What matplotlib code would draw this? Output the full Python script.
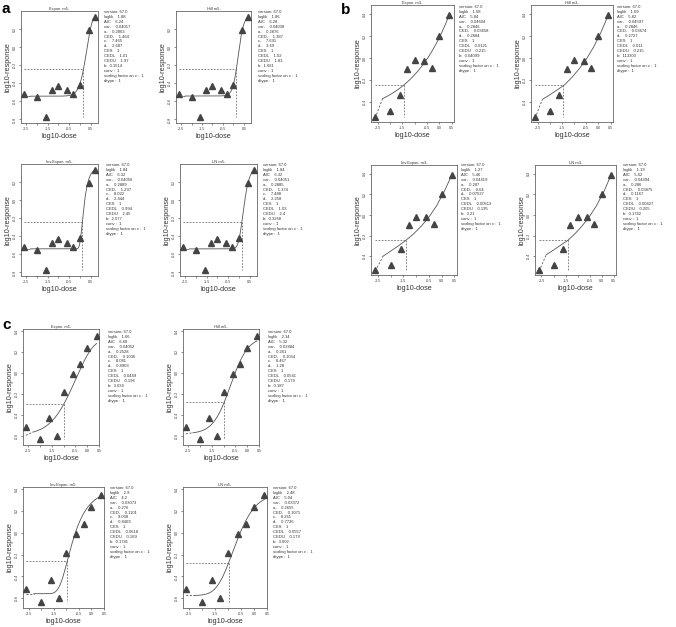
import math
import numpy as np
import matplotlib
matplotlib.use("Agg")
import matplotlib.pyplot as plt

# ---------------- data ----------------
dose_a = [-2.6, -2.0, -1.6, -1.3, -1.0, -0.6, -0.3, 0.0, 0.4, 0.7]
resp_a = [-0.52, -0.555, -0.775, -0.47, -0.43, -0.47, -0.52, -0.42, 0.193, 0.333]
dose_b = [-2.6, -2.0, -1.6, -1.3, -1.0, -0.6, -0.3, 0.0, 0.4]
resp_b = [-0.538, -0.484, -0.332, -0.10, -0.015, -0.024, -0.085, 0.204, 0.39]
dose_c = [-2.6, -2.0, -1.6, -1.3, -1.0, -0.6, -0.3, 0.0, 0.4]
resp_c = [-0.52, -0.634, -0.434, -0.60, -0.187, -0.014, 0.082, 0.238, 0.35]

# panel a fits
models_a = ["Expon. m5-", "Hill m5-", "Inv.Expon. m5-", "LN m5-"]
family_a = ["exp5", "hill5", "inv5", "ln5"]
loglik_a = ["1.88", "1.86", "1.84", "1.84"]
aic_a = ["6.24", "6.28", "6.32", "6.32"]
var_a = ["0.04017", "0.04038", "0.04056", "0.04051"]
apar_a = ["0.2863", "0.2876", "0.2889", "0.2885"]
ced_a = ["1.464", "1.387", "1.297", "1.374"]
cpar_a = ["7.465", "7.691", "8.022", "7.488"]
dpar_a = ["2.687", "3.69", "2.444", "2.258"]
cedl_a = ["1.01", "1.02", "0.994", "1.03"]
cedu_a = ["1.97", "1.83", "2.45", "2.4"]
bpar_a = ["0.1514", "1.661", "2.077", "0.3268"]

# panel b fits
models_b = ["Expon. m3-", "Hill m3-", "Inv.Expon. m3-", "LN m3-"]
family_b = ["exp3", "knots", "knots", "knots"]
loglik_b = ["1.08", "1.09", "1.27", "1.19"]
aic_b = ["5.84", "5.82", "5.46", "5.62"]
var_b = ["0.04604", "0.04597", "0.04419", "0.04494"]
apar_b = ["0.2846", "0.2846", "0.287", "0.286"]
ced_b = ["0.03658", "0.03674", "0.04", "0.03875"]
dpar_b = ["0.2684", "0.2727", "0.07537", "0.1167"]
cedl_b = ["0.0121", "0.011", "0.00513", "0.00427"]
cedu_b = ["0.215", "0.215", "0.195", "0.205"]
bpar_b = ["0.04099", "113300", "3.21", "0.1742"]
# fitted curves (m3 Hill / Inv.Expon / LN)
knot_x_b = [-2.3, -2.0, -1.7, -1.4, -1.1, -0.8, -0.5, -0.2, 0.1, 0.4]
hill_m3_curve = [-0.375, -0.335, -0.29, -0.245, -0.178, -0.10, -0.01, 0.10, 0.233, 0.39]
inv_m3_curve = [-0.40, -0.35, -0.30, -0.245, -0.183, -0.108, -0.02, 0.09, 0.228, 0.39]
ln_m3_curve = [-0.385, -0.34, -0.292, -0.245, -0.18, -0.103, -0.014, 0.095, 0.23, 0.39]

# panel c fits
models_c = ["Expon. m5-", "Hill m5-", "Inv.Expon. m5-", "LN m5-"]
family_c = ["exp5", "hill5", "inv5", "ln5"]
loglik_c = ["1.66", "2.34", "2.9", "2.48"]
aic_c = ["6.68", "5.32", "4.2", "5.04"]
var_c = ["0.04052", "0.03484", "0.03073", "0.03372"]
apar_c = ["0.2528", "0.261", "0.276", "0.2655"]
ced_c = ["0.1036", "0.1054", "0.1101", "0.1071"]
cpar_c = ["8.081", "8.467", "9.008", "8.261"]
dpar_c = ["0.8903", "1.28", "0.8469", "0.7726"]
cedl_c = ["0.0449", "0.0541", "0.0618", "0.0557"]
cedu_c = ["0.196", "0.179", "0.169", "0.179"]
bpar_c = ["3.034", "0.187", "0.1781", "3.602"]

CES = 1.0

# ---------------- model helpers ----------------
def Phi(z):
    z = np.asarray(z, dtype=float)
    return 0.5 * (1 + np.vectorize(math.erf)(z / math.sqrt(2)))

def Phi_inv(p):
    lo, hi = -12.0, 12.0
    for _ in range(200):
        mid = 0.5 * (lo + hi)
        if 0.5 * (1 + math.erf(mid / math.sqrt(2))) < p:
            lo = mid
        else:
            hi = mid
    return 0.5 * (lo + hi)

def model(fam, a, c, d, ced, x):
    x = np.asarray(x, dtype=float)
    if fam == "exp5":
        b = -math.log((c - 1 - CES) / (c - 1)) / ced ** d
        return a * (c - (c - 1) * np.exp(-b * x ** d))
    if fam == "exp3":
        b = math.log(1 + CES) / ced ** d
        return a * np.exp(b * x ** d)
    if fam == "hill5":
        t = CES / (c - 1)
        bd = ced ** d * (1 - t) / t
        return a * (1 + (c - 1) * x ** d / (bd + x ** d))
    if fam == "inv5":
        b = math.log((c - 1) / CES) * ced ** d
        return a * (1 + (c - 1) * np.exp(-b * x ** (-d)))
    if fam == "ln5":
        z = Phi_inv(CES / (c - 1))
        lnb = z - d * math.log(ced)
        return a * (1 + (c - 1) * Phi(lnb + d * np.log(x)))
    raise ValueError(fam)

# ---------------- figure ----------------
W, H = 676, 627
fig = plt.figure(figsize=(W / 100, H / 100), dpi=100)
plt.rcParams["font.family"] = ["Liberation Sans", "DejaVu Sans"]

TXT = "#333333"
FRAME = "#666666"
MARK = "#444444"
LINE = "#555555"

def add_axes(l, r, t, b):
    return fig.add_axes([l / W, 1 - b / H, (r - l) / W, (b - t) / H])

def draw_panel(rect, txtpos, title, fam, dose, resp, a, c, d, ced, lines,
               xlim, ylim, yticks, xticklabels, knots=None):
    ax = add_axes(*rect)
    ax.plot(dose, resp, linestyle="none", marker="^", ms=3.8, color=MARK,
            mec=MARK, zorder=3)
    x0 = dose[0]
    xs = dose[1] - 0.3
    xe = dose[-1]
    y0 = math.log10(a)
    if fam == "knots":
        kx, ky = knots
        ax.plot(kx, ky, color=LINE, lw=0.6)
        ys = ky[0]
        xs = kx[0]
    else:
        lx = np.linspace(xs, xe, 300)
        ly = np.log10(model(fam, a, c, d, ced, 10 ** lx))
        ax.plot(lx, ly, color=LINE, lw=0.6)
        ys = float(np.log10(model(fam, a, c, d, ced, 10 ** xs)))
    ax.plot([x0, xs], [y0, ys], color=LINE, lw=0.6, ls=(0, (2.5, 2)))
    # CED lines
    yc = math.log10(a * (1 + CES))
    xc = math.log10(ced)
    ax.plot([x0, xc], [yc, yc], color=LINE, lw=0.5, ls=(0, (2.5, 2)))
    ax.plot([xc, xc], [yc, min(resp)], color=LINE, lw=0.5, ls=(0, (2.5, 2)))

    ax.set_xlim(*xlim)
    ax.set_ylim(*ylim)
    xt = np.arange(-2.5, 0.51, 0.5)
    ax.set_xticks(xt)
    ax.set_xticklabels([("%.1f" % v if ("%.1f" % v) in xticklabels else "") for v in xt])
    ax.set_yticks(yticks)
    ax.set_yticklabels(["%.1f" % v for v in yticks], rotation=90, va="center")
    ax.tick_params(labelsize=2.6, length=1.6, width=0.4, pad=1.2, colors=TXT)
    for s in ax.spines.values():
        s.set_linewidth(0.6)
        s.set_color(FRAME)
    ax.set_xlabel("log10-dose", fontsize=5.2, labelpad=1.5, color=TXT)
    ax.set_ylabel("log10-response", fontsize=5.2, labelpad=1.5, color=TXT)
    ax.set_title(title, fontsize=2.9, pad=0.8, color=TXT)
    fig.text(txtpos[0] / W, 1 - txtpos[1] / H, "\n".join(lines),
             fontsize=3.0, linespacing=1.3, va="top", ha="left", color=TXT)
    return ax

rects_a = [(21, 98, 11, 123), (176, 251, 11, 123), (21, 98, 164, 276), (180, 257, 164, 276)]
tpos_a = [(104, 10), (258, 10), (106, 163), (263, 163)]
rects_b = [(371, 454, 5, 122), (531, 613, 5, 122), (371, 457, 165, 275), (535, 616, 165, 275)]
tpos_b = [(459, 5), (617, 5), (461, 163), (623, 163)]
rects_c = [(23, 99, 329, 445), (183, 259, 329, 445), (23, 104, 487, 608), (183, 267, 487, 608)]
tpos_c = [(108, 330), (268, 330), (110, 486), (273, 486)]

def lines_m5(ll, aic, var, a, ced, c, d, cedl, cedu, b):
    return ["version: 67.0", "loglik    " + ll, "AIC    " + aic, "var-    " + var,
            "a-    " + a, "CED-    " + ced, "c-    " + c, "d-    " + d, "CES    1",
            "CEDL    " + cedl, "CEDU    " + cedu, "b:  " + b, "conv :  1",
            "scaling factor on x :  1", "dtype :  1"]

def lines_m3(ll, aic, var, a, ced, d, cedl, cedu, b):
    return ["version: 67.0", "loglik    " + ll, "AIC    " + aic, "var-    " + var,
            "a-    " + a, "CED-    " + ced, "d-    " + d, "CES    1",
            "CEDL    " + cedl, "CEDU    " + cedu, "b:  " + b, "conv :  1",
            "scaling factor on x :  1", "dtype :  1"]

for i in range(4):
    draw_panel(rects_a[i], tpos_a[i], models_a[i], family_a[i], dose_a, resp_a,
               float(apar_a[i]), float(cpar_a[i]), float(dpar_a[i]), float(ced_a[i]),
               lines_m5(loglik_a[i], aic_a[i], var_a[i], apar_a[i], ced_a[i], cpar_a[i],
                        dpar_a[i], cedl_a[i], cedu_a[i], bpar_a[i]),
               (-2.74, 0.84), (-0.84, 0.40), [-0.8, -0.6, -0.4, -0.2, 0.0, 0.2],
               ["-2.5", "-1.5", "-0.5", "0.5"])

knots_b = [None, (knot_x_b, hill_m3_curve), (knot_x_b, inv_m3_curve), (knot_x_b, ln_m3_curve)]
for i in range(4):
    draw_panel(rects_b[i], tpos_b[i], models_b[i], family_b[i], dose_b, resp_b,
               float(apar_b[i]), None, float(dpar_b[i]), float(ced_b[i]),
               lines_m3(loglik_b[i], aic_b[i], var_b[i], apar_b[i], ced_b[i],
                        dpar_b[i], cedl_b[i], cedu_b[i], bpar_b[i]),
               (-2.77, 0.6), (-0.582, 0.485), [-0.4, -0.2, 0.0, 0.2, 0.4],
               ["-2.5", "-1.5", "-0.5", "0.0", "0.5"], knots=knots_b[i])

for i in range(4):
    draw_panel(rects_c[i], tpos_c[i], models_c[i], family_c[i], dose_c, resp_c,
               float(apar_c[i]), float(cpar_c[i]), float(dpar_c[i]), float(ced_c[i]),
               lines_m5(loglik_c[i], aic_c[i], var_c[i], apar_c[i], ced_c[i], cpar_c[i],
                        dpar_c[i], cedl_c[i], cedu_c[i], bpar_c[i]),
               (-2.72, 0.5), (-0.69, 0.42), [-0.6, -0.4, -0.2, 0.0, 0.2, 0.4],
               ["-2.5", "-1.5", "-0.5", "0.0", "0.5"])

# panel letters
fig.text(2 / W, 1 - 13 / H, "a", fontsize=11, fontweight="bold", color="black")
fig.text(341 / W, 1 - 14 / H, "b", fontsize=11, fontweight="bold", color="black")
fig.text(2 / W, 1 - 329 / H, "c", fontsize=11, fontweight="bold", color="black")

fig.savefig("out.png", dpi=100)
